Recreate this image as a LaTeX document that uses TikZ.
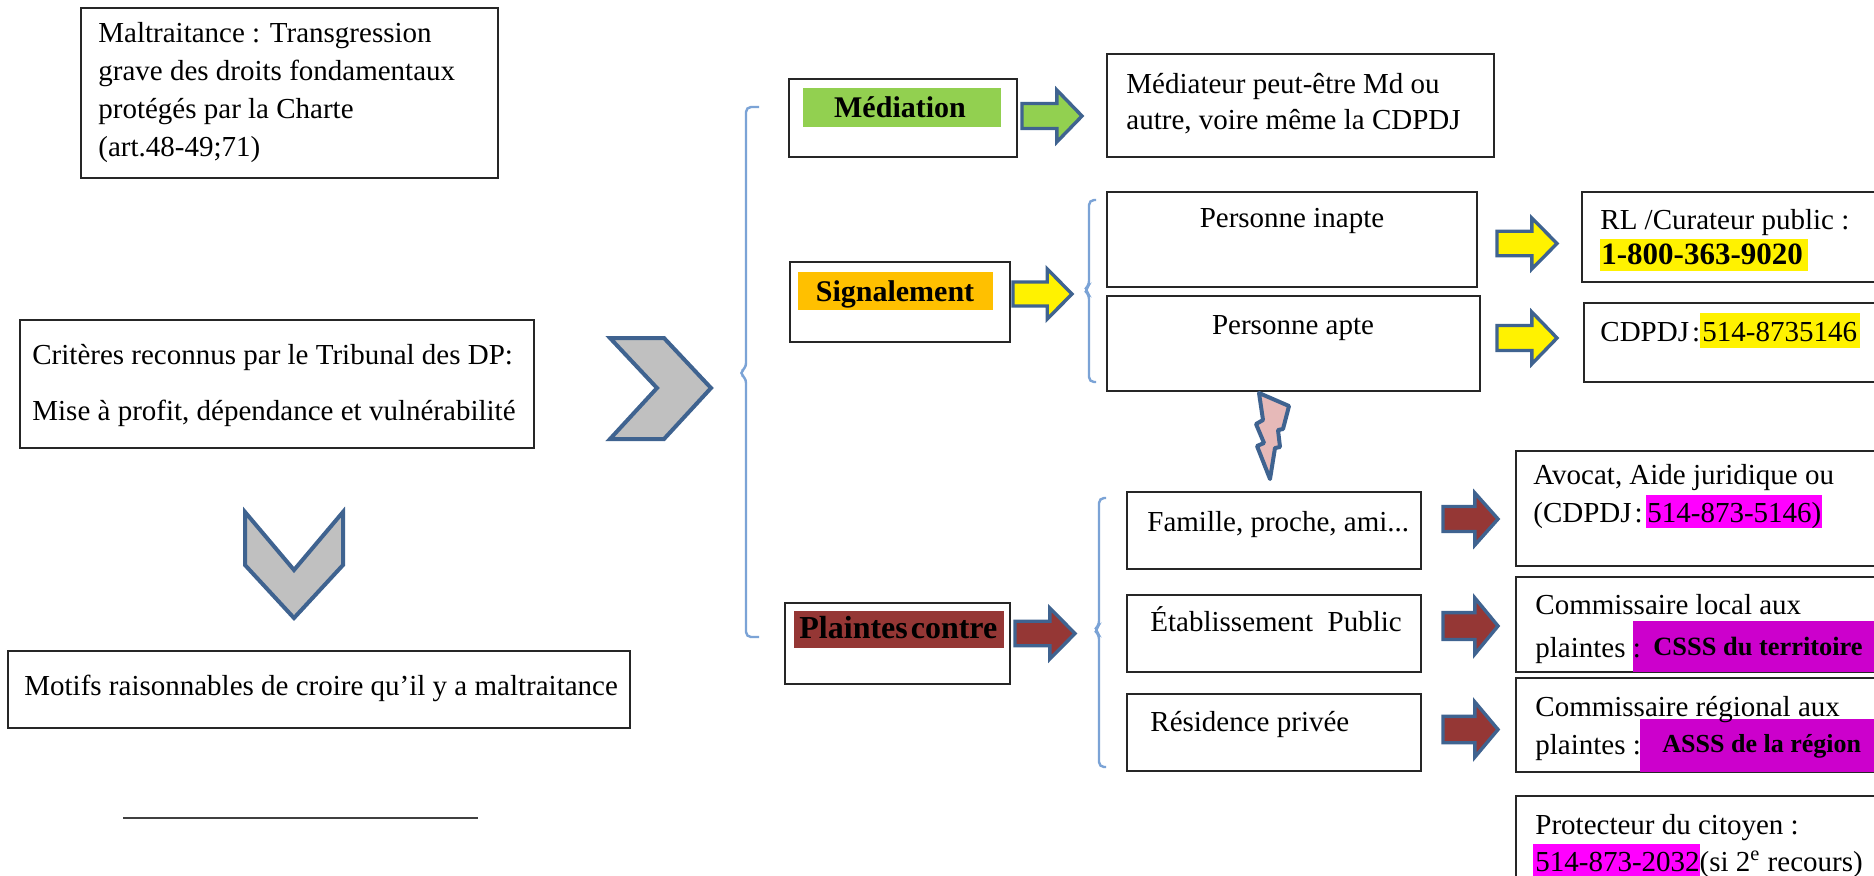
\documentclass[tikz,border=0pt]{standalone}
\usepackage{fontspec}
\setmainfont{Liberation Serif}
\usetikzlibrary{fit}
\definecolor{steel}{HTML}{3F6390}
\definecolor{brkc}{HTML}{7BA3D6}
\definecolor{grn}{HTML}{92D050}
\definecolor{org}{HTML}{FFC000}
\definecolor{brn}{HTML}{953735}
\definecolor{mag}{HTML}{FF00FF}
\definecolor{dmag}{HTML}{CC00CC}
\definecolor{pinkb}{HTML}{E6B9B8}
\definecolor{chgray}{HTML}{C0C0C0}
\newcommand\fr{\fontsize{14.5}{19}\selectfont}
\newcommand\fbl{\fontsize{15}{19}\selectfont\bfseries}
\newcommand\barrow[5]{%
  \pgfmathsetmacro\bxm{#1+0.58*(#3-#1)}%
  \pgfmathsetmacro\bym{(#2+#4)/2}%
  \pgfmathsetmacro\bh{0.24*(#4-#2)}%
  \draw[arrowborder, fill=#5] (#1,\bym-\bh) -- (\bxm,\bym-\bh) -- (\bxm,#2) -- (#3,\bym) -- (\bxm,#4) -- (\bxm,\bym+\bh) -- (#1,\bym+\bh) -- cycle;}
\begin{document}
\begin{tikzpicture}[x=0.5pt,y=-0.5pt,
  box/.style={draw=black!85, line width=1pt, inner sep=0pt},
  hl/.style={inner sep=0pt, draw=none},
  t/.style={font=\fr, inner sep=0pt, anchor=base west},
  tc/.style={font=\fr, inner sep=0pt, anchor=base},
  lbl/.style={font=\fbl, inner sep=0pt, anchor=base},
  arrowborder/.style={draw=steel, line width=1.7pt, line join=miter},
  chev/.style={draw=steel, fill=chgray, line width=2pt, line join=miter},
  brk/.style={draw=brkc, line width=1.2pt, rounded corners=2.5pt},
]
\useasboundingbox (0,0) rectangle (1874,875);
\clip (0,0) rectangle (1874,875);
\fill[white] (0,0) rectangle (1874,875);

% ---------- left column ----------
\node[box, fit={(81,8)(498,178)}] (b1) {};
\node[t] (b1a) at (98,42)  {Maltraitance : Transgression};
\node[t] (b1b) at (98,80)  {grave des droits fondamentaux};
\node[t] (b1c) at (98,118) {protégés par la Charte};
\node[t] (b1d) at (98,156) {(art.48-49;71)};

\node[box, fit={(20,320)(534,448)}] (b2) {};
\node[t] (b2a) at (32,364) {Critères reconnus par le Tribunal des DP:};
\node[t] (b2b) at (32,420) {Mise à profit, dépendance et vulnérabilité};

\draw[chev] (610,338) -- (664,338) -- (711,388) -- (664,439) -- (610,439) -- (657,388) -- cycle;
\draw[chev] (245,512) -- (294,570) -- (343,512) -- (343,565) -- (294,618) -- (245,565) -- cycle;

\node[box, fit={(8,651)(630,728)}] (b3) {};
\node[t] (b3a) at (24,695) {Motifs raisonnables de croire qu’il y a maltraitance};

\draw[black!75, line width=1.2pt] (123,818) -- (478,818);

% ---------- big bracket ----------
\draw[brk] (759,107) -- (746,107) -- (746,368) -- (739,373) -- (746,378) -- (746,637) -- (759,637);

% ---------- Médiation ----------
\node[box, fit={(789,79)(1017,157)}] (med) {};
\node[hl, fill=grn, fit={(803,88)(1001,127)}] (medh) {};
\node[lbl] (medt) at (900,117) {Médiation};
\barrow{1022}{90}{1082}{142}{grn}
\node[box, fit={(1107,54)(1494,157)}] (medr) {};
\node[t] (medra) at (1126,93)  {Médiateur peut-être Md ou};
\node[t] (medrb) at (1126,129) {autre, voire même la CDPDJ};

% ---------- Signalement ----------
\node[box, fit={(790,262)(1010,342)}] (sig) {};
\node[hl, fill=org, fit={(798,272)(993,310)}] (sigh) {};
\node[lbl] (sigt) at (895,301) {Signalement};
\barrow{1013}{269}{1072}{319}{yellow}
\draw[brk] (1096,200) -- (1089,200) -- (1089,286) -- (1084,290) -- (1089,294) -- (1089,382) -- (1096,382);

\node[box, fit={(1107,192)(1477,287)}] (inap) {};
\node[tc] (inapt) at (1292,227) {Personne inapte};
\node[box, fit={(1107,296)(1480,391)}] (apte) {};
\node[tc] (aptet) at (1293,334) {Personne apte};

\barrow{1497}{218}{1557}{269}{yellow}
\barrow{1497}{312}{1557}{364}{yellow}

\node[box, fit={(1582,192)(1890,282)}] (rl) {};
\node[t] (rla) at (1600,229) {RL /Curateur public :};
\node[hl, fill=yellow, fit={(1600,239)(1808,271)}] (rlh) {};
\node[t, font=\fontsize{15.5}{19}\selectfont\bfseries] (rlb) at (1601,264) {1-800-363-9020};

\node[box, fit={(1584,303)(1890,382)}] (cd) {};
\node[hl, fill=yellow, fit={(1700,313)(1860,348)}] (cdh) {};
\node[t] (cda) at (1600,341) {CDPDJ\hspace{1.5pt}:};
\node[t] (cdb) at (1702,341) {514-8735146};

% ---------- lightning ----------
\draw[arrowborder, line width=2pt, fill=pinkb, line join=round] (1259,393) -- (1289,406) -- (1283,429) -- (1278,430) -- (1280,447) -- (1275,448) -- (1270,479) -- (1257,446) -- (1264,443) -- (1256,424) -- (1263,420) -- cycle;

% ---------- Plaintes ----------
\node[box, fit={(785,603)(1010,684)}] (pl) {};
\node[hl, fill=brn, fit={(794,611)(1004,648)}] (plh) {};
\node[lbl, anchor=base west, font=\fontsize{16}{19}\selectfont\bfseries] (plt) at (799,638) {Plaintes\hspace{-2.5pt} contre};
\barrow{1015}{608}{1075}{659}{brn}
\draw[brk] (1106,498) -- (1099,498) -- (1099,626) -- (1094,630) -- (1099,634) -- (1099,767) -- (1106,767);

\node[box, fit={(1127,492)(1421,569)}] (fam) {};
\node[t] (famt) at (1147,531) {Famille, proche, ami...};
\node[box, fit={(1127,595)(1421,672)}] (eta) {};
\node[t] (etat) at (1150,631) {Établissement\ \ Public};
\node[box, fit={(1127,694)(1421,771)}] (res) {};
\node[t] (rest) at (1150,731) {Résidence privée};

\barrow{1443}{493}{1498}{545}{brn}
\barrow{1443}{598}{1498}{654}{brn}
\barrow{1443}{702}{1498}{757}{brn}

\node[box, fit={(1516,451)(1890,566)}] (avo) {};
\node[t] (avoa) at (1533,484) {Avocat, Aide juridique ou};
\node[hl, fill=mag, fit={(1646,495)(1822,528)}] (avoh) {};
\node[t] (avob) at (1533,522) {(CDPDJ\hspace{1.5pt}:};
\node[t] (avoc) at (1647,522) {514-873-5146)};

\node[box, fit={(1516,577)(1890,672)}] (cl) {};
\node[hl, fill=dmag, fit={(1633,621)(1890,672)}] (clh) {};
\node[t] (cla) at (1535,614) {Commissaire local aux};
\node[t] (clb) at (1535,657) {plaintes :};
\node[t, font=\fontsize{13.2}{16}\selectfont\bfseries] (clc) at (1653,655) {CSSS du territoire};

\node[box, fit={(1516,678)(1890,772)}] (cr) {};
\node[hl, fill=dmag, fit={(1640,719)(1890,772)}] (crh) {};
\node[t] (cra) at (1535,716) {Commissaire régional aux};
\node[t] (crb) at (1535,754) {plaintes :};
\node[t, font=\fontsize{13}{16}\selectfont\bfseries] (crc) at (1662,752) {ASSS de la région};

\node[box, fit={(1516,796)(1890,900)}] (pro) {};
\node[t] (proa) at (1535,834) {Protecteur du citoyen :};
\node[hl, fill=mag, fit={(1533,844)(1700,880)}] (proh) {};
\node[t] (prob) at (1535,871) {514-873-2032(si 2\textsuperscript{e} recours)};
\end{tikzpicture}
\end{document}
